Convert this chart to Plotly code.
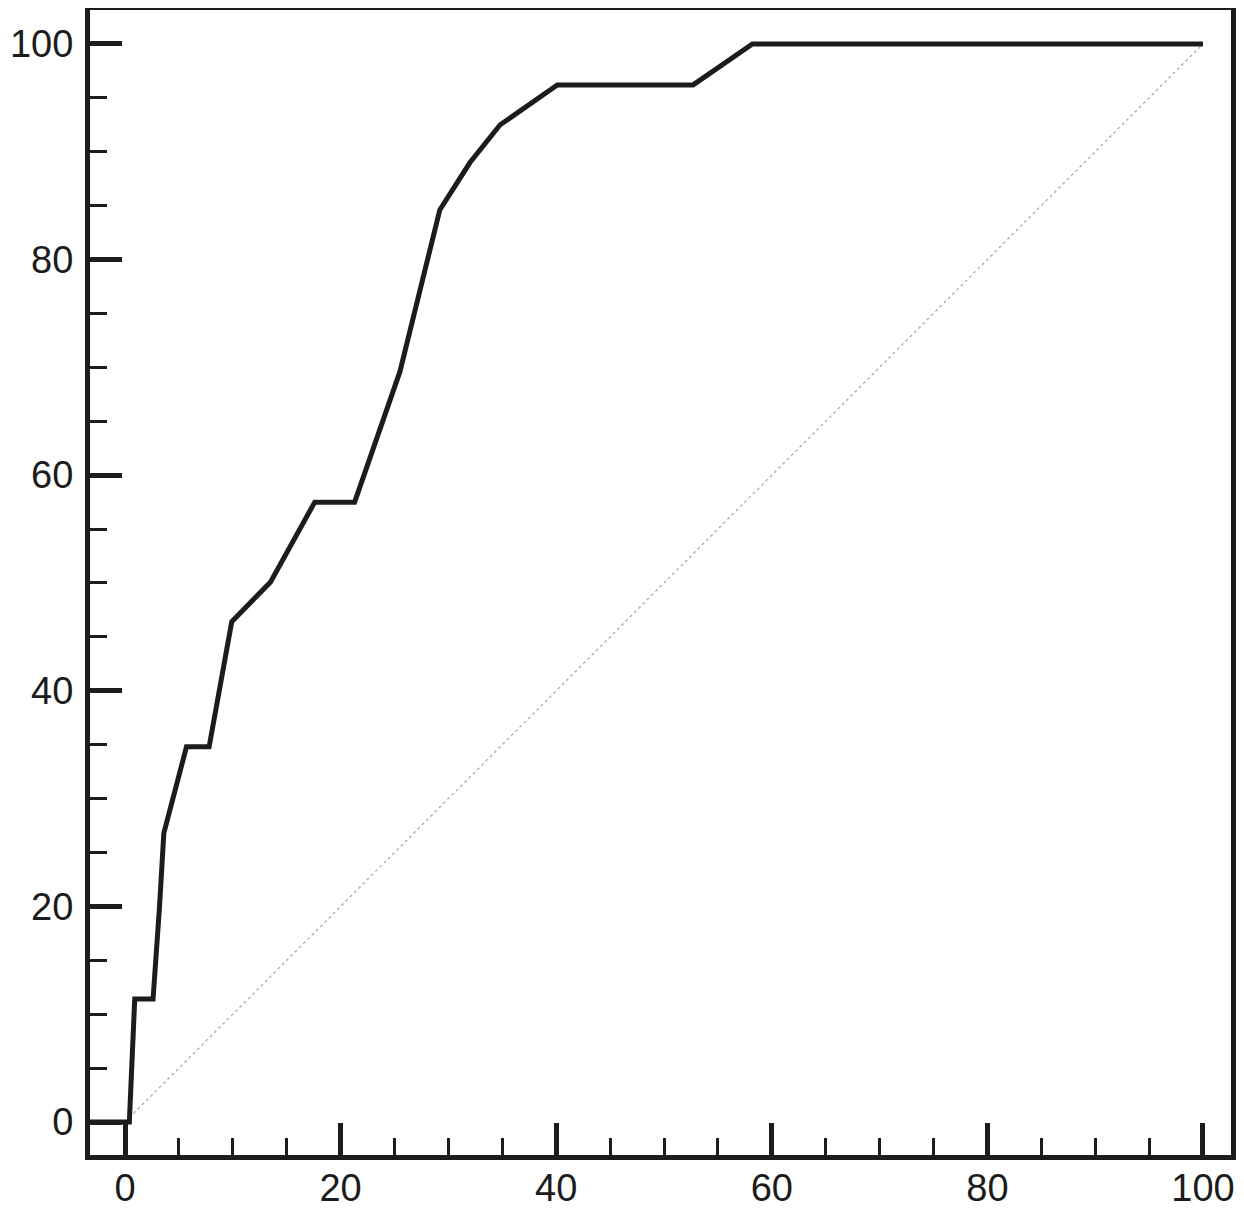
import plotly.graph_objects as go

# ROC-style curve (1 - specificity %, sensitivity %)
fpr = [-3.4, 0.4, 0.9, 2.6, 3.2, 3.6, 5.7, 7.8, 9.9, 13.5, 17.6, 21.3,
       25.5, 29.2, 32.0, 34.8, 40.1, 52.7, 58.2, 100.0]
tpr = [0.0, 0.0, 11.4, 11.4, 20.0, 26.8, 34.8, 34.8, 46.4, 50.1, 57.5, 57.5,
       69.6, 84.6, 89.0, 92.5, 96.2, 96.2, 100.0, 100.0]

ref_x = [0, 100]
ref_y = [0, 100]

major_ticks = [0, 20, 40, 60, 80, 100]

ink = "#1c1c1c"

fig = go.Figure()

# --- chance line ---
fig.add_trace(
    go.Scatter(
        x=ref_x,
        y=ref_y,
        mode="lines",
        line=dict(color="#a8a8a8", width=1.2, dash="dot"),
        showlegend=False,
        hoverinfo="skip",
    )
)

# --- curve ---
fig.add_trace(
    go.Scatter(
        x=fpr,
        y=tpr,
        mode="lines",
        line=dict(color=ink, width=5),
        showlegend=False,
    )
)

axis_common = dict(
    automargin=False,
    showgrid=False,
    zeroline=False,
    showline=True,
    mirror=True,
    linecolor=ink,
    linewidth=5,
    ticks="inside",
    tickmode="array",
    tickvals=major_ticks,
    ticktext=[str(v) for v in major_ticks],
    ticklabeloverflow="allow",
    tickwidth=5,
    tickcolor=ink,
    ticklen=32,
    minor=dict(dtick=5, ticks="inside", ticklen=17, tickwidth=3, tickcolor=ink),
    tickfont=dict(family="Liberation Sans, Arial", size=38, color=ink),
)

# page body adds an 8px margin, so the figure is a bit smaller than the window
fig.update_xaxes(range=[-3.25, 102.6], ticklabelstandoff=-5, **axis_common)
fig.update_yaxes(range=[-3.06, 103.15], ticklabelstandoff=4, **axis_common)

fig.update_layout(
    width=1228,
    height=1205,
    margin=dict(l=82, r=5, t=2, b=58),
    plot_bgcolor="white",
    paper_bgcolor="white",
)

fig.write_html("out.html")
